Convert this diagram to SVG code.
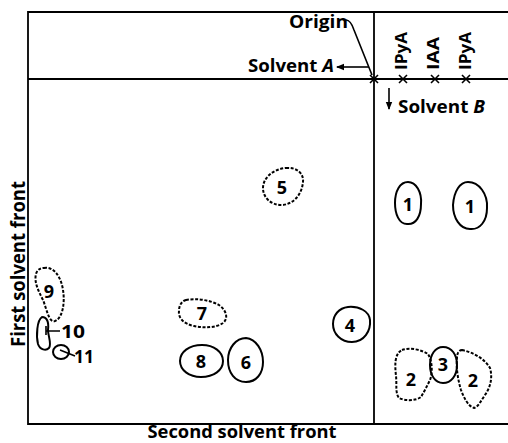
<svg xmlns="http://www.w3.org/2000/svg" width="508" height="443" viewBox="0 0 508 443">
  <style>
    .frame { stroke: #000; stroke-width: 1.8; fill: none; }
    .spot { stroke: #000; stroke-width: 2; fill: none; }
    .dash { stroke-dasharray: 3 1.6; }
    .lbl { font-family: "Open Sans", "Liberation Sans", sans-serif; font-weight: 700; fill: #000; }
    .num { font-family: "Open Sans", "Liberation Sans", sans-serif; font-weight: 700; font-size: 18px; fill: #000; text-anchor: middle; dominant-baseline: central; }
    .ln { stroke: #000; stroke-width: 1.6; fill: none; }
  </style>
  <defs>
    <marker id="arr" markerWidth="8" markerHeight="8" refX="7" refY="4" orient="auto" markerUnits="userSpaceOnUse">
      <path d="M0,0.8 L8,4 L0,7.2 Z" fill="#000"/>
    </marker>
    <path id="x" d="M-4,-4 L4,4 M-4,4 L4,-4" stroke="#000" stroke-width="1.6"/>
  </defs>
  <rect width="508" height="443" fill="#fff"/>

  <!-- chromatogram frame and origin lines -->
  <g id="frame">
    <path class="frame" d="M508,12 H28 V424 H508"/>
    <path class="frame" d="M28,79 H508"/>
    <path class="frame" stroke-width="2.2" d="M374,12 V424"/>
    <use href="#x" x="374" y="79"/>
    <use href="#x" x="403" y="79"/>
    <use href="#x" x="435" y="79"/>
    <use href="#x" x="466" y="79"/>
  </g>

  <!-- labels and pointers -->
  <g id="connectors">
    <path class="ln" d="M346,20 C350,20 352,24 354,30 L372,75"/>
    <path class="ln" marker-end="url(#arr)" d="M369,67 H337"/>
    <path class="ln" marker-end="url(#arr)" d="M389,88 V109"/>
    <path class="ln" d="M46,326 V335 M46,331 H60"/>
    <path class="ln" d="M60,350 L75,356"/>
  </g>

  <g id="labels">
    <text class="lbl" x="289" y="28" font-size="17" textLength="59" lengthAdjust="spacingAndGlyphs">Origin</text>
    <text class="lbl" x="248" y="72" font-size="17" textLength="86" lengthAdjust="spacingAndGlyphs">Solvent <tspan font-style="italic">A</tspan></text>
    <text class="lbl" x="398" y="113" font-size="18" textLength="87" lengthAdjust="spacingAndGlyphs">Solvent <tspan font-style="italic">B</tspan></text>
    <text class="lbl" font-size="16" x="407" y="70" transform="rotate(-90 407 70)" textLength="38" lengthAdjust="spacingAndGlyphs">IPyA</text>
    <text class="lbl" font-size="16" x="439" y="70" transform="rotate(-90 439 70)" textLength="33" lengthAdjust="spacingAndGlyphs">IAA</text>
    <text class="lbl" font-size="16" x="471" y="70" transform="rotate(-90 471 70)" textLength="38" lengthAdjust="spacingAndGlyphs">IPyA</text>
    <text class="lbl" font-size="19" x="25" y="264" text-anchor="middle" transform="rotate(-90 25 264)" textLength="166" lengthAdjust="spacingAndGlyphs">First solvent front</text>
    <text class="lbl" font-size="17" x="242" y="438" text-anchor="middle" textLength="189" lengthAdjust="spacingAndGlyphs">Second solvent front</text>
  </g>

  <!-- spots -->
  <g id="spot1a"><path class="spot" d="M408,182 C416,182 422,192 421,204 C421,216 416,225 407,224 C399,224 395,214 395,203 C395,191 400,182 408,182 Z"/><text class="num" x="408" y="204">1</text></g>
  <g id="spot1b"><path class="spot" d="M468,182 C479,182 488,194 487,208 C487,221 480,230 470,229 C460,229 453,218 453,205 C454,191 460,182 468,182 Z"/><text class="num" x="470" y="206">1</text></g>
  <g id="spot2a"><path class="spot dash" d="M402,350 C410,347 422,350 428,354 C432,360 433,372 430,380 C427,386 424,392 421,397 C416,401 405,401 399,398 C395,393 397,384 396,376 C395,366 394,354 402,350 Z"/><text class="num" x="411" y="379">2</text></g>
  <g id="spot3"><path class="spot" d="M443,347 C452,347 457,355 457,365 C457,376 451,383 443,383 C435,383 430,375 430,365 C430,355 435,347 443,347 Z"/><text class="num" x="443" y="364">3</text></g>
  <g id="spot2b"><path class="spot dash" d="M462,350 C472,352 484,358 490,368 C493,378 490,388 485,395 C481,401 478,407 474,408 C468,406 464,398 461,390 C458,380 456,368 457,358 C457,353 459,350 462,350 Z"/><text class="num" x="473" y="380">2</text></g>
  <g id="spot4"><path class="spot" d="M348,307 C359,306 369,311 370,320 C371,331 364,342 352,342 C341,342 333,334 333,324 C333,315 339,308 348,307 Z"/><text class="num" x="350" y="325">4</text></g>
  <g id="spot5"><path class="spot dash" d="M286,168 C296,167 304,173 303,182 C302,193 295,204 282,205 C270,205 263,197 263,188 C263,178 273,169 286,168 Z"/><text class="num" x="282" y="187">5</text></g>
  <g id="spot6"><path class="spot" d="M246,338 C256,339 263,350 263,362 C263,374 256,382 246,382 C235,382 228,373 228,360 C228,348 236,338 246,338 Z"/><text class="num" x="246" y="362">6</text></g>
  <g id="spot7"><path class="spot dash" d="M186,300 C196,298 210,300 219,305 C226,310 229,318 223,323 C216,328 204,328 194,326 C184,324 178,318 179,311 C179,305 182,301 186,300 Z"/><text class="num" x="202" y="313">7</text></g>
  <g id="spot8"><path class="spot" d="M202,345 C214,345 223,352 223,361 C223,370 214,377 201,377 C189,377 180,370 180,361 C180,352 189,345 202,345 Z"/><text class="num" x="201" y="361">8</text></g>
  <g id="spot9"><path class="spot dash" d="M44,268 C53,266 61,276 63,290 C65,302 63,318 55,321 C49,323 47,310 43,300 C38,290 34,282 36,274 C37,270 40,268 44,268 Z"/><text class="num" x="49" y="291">9</text></g>
  <g id="spot10"><path class="spot" d="M42,317 C47,317 49,322 48,330 C48,336 52,344 49,348 C46,351 40,350 38,344 C36,336 37,320 42,317 Z"/><text class="lbl" font-size="18" x="61" y="338" textLength="24" lengthAdjust="spacingAndGlyphs">10</text></g>
  <g id="spot11"><ellipse class="spot" cx="61" cy="352" rx="8" ry="7"/><text class="lbl" font-size="18" x="74" y="363" textLength="20" lengthAdjust="spacingAndGlyphs">11</text></g>
</svg>
